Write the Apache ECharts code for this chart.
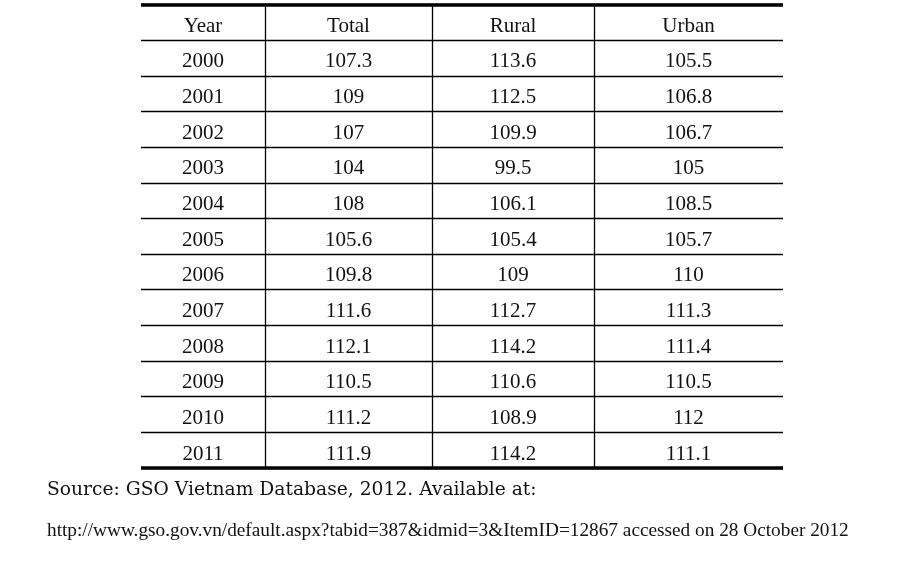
<!DOCTYPE html>
<html>
<head>
<meta charset="utf-8">
<script src="https://cdn.jsdelivr.net/npm/echarts@6/dist/echarts.min.js"></script>
<style>
    html,body{margin:0;padding:0;background:#fff;}
    #main{width:900px;height:562px;}
</style>
</head>
<body>
<div id="main"></div>
<script>
//表格数据
var headers = ['Year', 'Total', 'Rural', 'Urban'];
var years = ['2000','2001','2002','2003','2004','2005','2006','2007','2008','2009','2010','2011'];
var total = [107.3, 109, 107, 104, 108, 105.6, 109.8, 111.6, 112.1, 110.5, 111.2, 111.9];
var rural = [113.6, 112.5, 109.9, 99.5, 106.1, 105.4, 109, 112.7, 114.2, 110.6, 108.9, 114.2];
var urban = [105.5, 106.8, 106.7, 105, 108.5, 105.7, 110, 111.3, 111.4, 110.5, 112, 111.1];
var sourceLine = 'Source: GSO Vietnam Database, 2012. Available at:';
var urlLine = 'http://www.gso.gov.vn/default.aspx?tabid=387&idmid=3&ItemID=12867 accessed on 28 October 2012';

var columns = [years, total, rural, urban];
var rowCats = ['head'].concat(years);

//列边界
var edges = [141, 265, 432, 594, 783];
var tableTop = 4.5, tableBottom = 468;
var lineColor = '#000';
var textColor = '#111';
var serif = '"Liberation Serif", "Times New Roman", serif';

var chartDom = document.getElementById('main');
var myChart = echarts.init(chartDom);

var grids = [], xAxes = [], yAxes = [], series = [];
for (var c = 0; c < 4; c++) {
    grids.push({
        left: edges[c],
        width: edges[c + 1] - edges[c],
        top: tableTop,
        bottom: 562 - tableBottom
    });
    // 下边粗线
    xAxes.push({
        type: 'category', gridIndex: c, position: 'bottom', data: ['v'],
        axisLine: {show: true, lineStyle: {color: lineColor, width: 3.5, cap: 'butt'}},
        axisTick: {show: false}, axisLabel: {show: false}, splitLine: {show: false}
    });
    // 上边粗线
    xAxes.push({
        type: 'category', gridIndex: c, position: 'top', data: ['v'],
        axisLine: {show: true, lineStyle: {color: lineColor, width: 3.5, cap: 'butt'}},
        axisTick: {show: false}, axisLabel: {show: false}, splitLine: {show: false}
    });
    yAxes.push({
        type: 'category', gridIndex: c, inverse: true, data: rowCats,
        axisLine: {show: c > 0, lineStyle: {color: lineColor, width: 1.3}},
        axisTick: {show: false}, axisLabel: {show: false},
        splitLine: {show: true, lineStyle: {color: lineColor, width: 1.3}}
    });
    var col = columns[c];
    var pts = [[0, 0, headers[c]]];
    for (var i = 0; i < col.length; i++) {
        pts.push([0, i + 1, String(col[i])]);
    }
    series.push({
        type: 'scatter',
        xAxisIndex: c * 2,
        yAxisIndex: c,
        symbolSize: 1,
        itemStyle: {color: 'rgba(0,0,0,0)', opacity: 1},
        silent: true,
        data: pts,
        label: {
            show: true,
            position: 'inside',
            offset: [0, 4],
            formatter: function (p) { return p.data[2]; },
            color: textColor,
            textBorderWidth: 0,
            fontFamily: serif,
            fontSize: 21
        }
    });
}

var option = {
    backgroundColor: '#fff',
    animation: false,
    grid: grids,
    xAxis: xAxes,
    yAxis: yAxes,
    series: series,
    title: [{
        text: sourceLine,
        left: 47, top: 481,
        padding: 0,
        textStyle: {fontFamily: '"DejaVu Serif", serif', fontSize: 18.7, fontWeight: 'normal', color: textColor}
    }, {
        text: urlLine,
        left: 47, top: 521,
        padding: 0,
        textStyle: {fontFamily: serif, fontSize: 19.3, fontWeight: 'normal', color: textColor}
    }]
};
myChart.setOption(option);
</script>
</body>
</html>
